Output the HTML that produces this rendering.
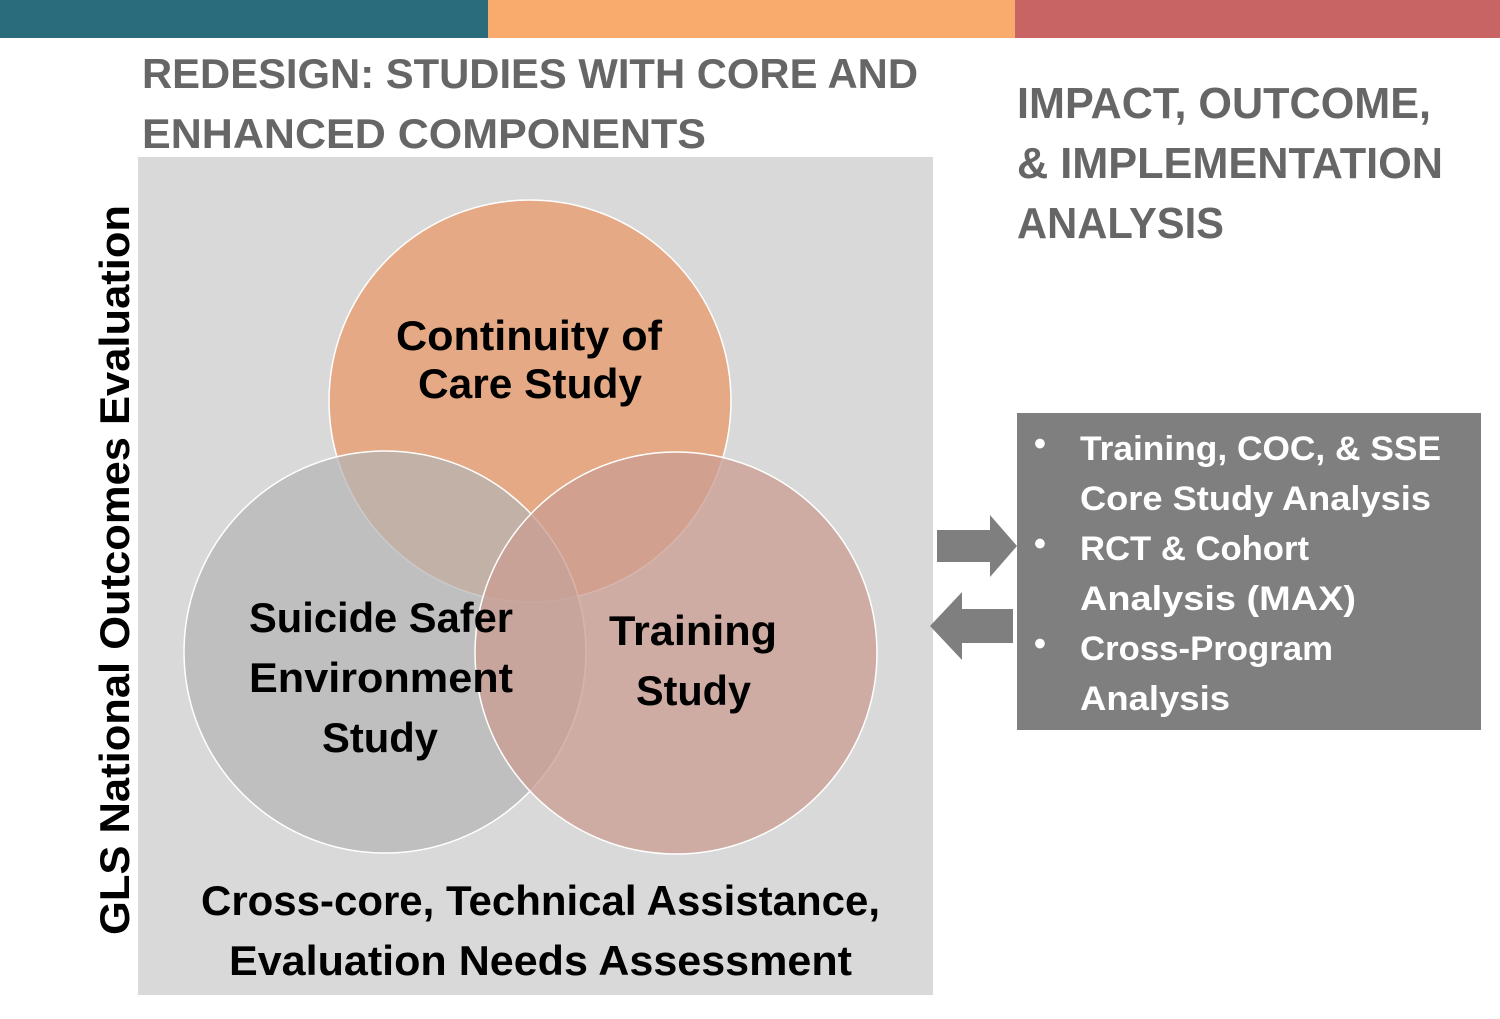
<!DOCTYPE html>
<html><head><meta charset="utf-8"><style>
html,body{margin:0;padding:0;background:#fff;}
svg{display:block;}
text{font-family:"Liberation Sans",sans-serif;font-weight:bold;}
</style></head><body>
<svg width="1500" height="1019" viewBox="0 0 1500 1019" xmlns="http://www.w3.org/2000/svg">
<rect x="0" y="0" width="488" height="38" fill="#2a6b7c"/>
<rect x="488" y="0" width="527" height="38" fill="#f9ab6d"/>
<rect x="1015" y="0" width="485" height="38" fill="#c96464"/>

<g fill="#666666" font-size="42">
<text x="142" y="88" textLength="776" lengthAdjust="spacingAndGlyphs">REDESIGN: STUDIES WITH CORE AND</text>
<text x="142" y="148" textLength="564" lengthAdjust="spacingAndGlyphs">ENHANCED COMPONENTS</text>
</g>
<g fill="#666666" font-size="44">
<text x="1017" y="118" textLength="414" lengthAdjust="spacingAndGlyphs">IMPACT, OUTCOME,</text>
<text x="1017" y="178" textLength="426" lengthAdjust="spacingAndGlyphs">&amp; IMPLEMENTATION</text>
<text x="1017" y="238" textLength="207" lengthAdjust="spacingAndGlyphs">ANALYSIS</text>
</g>

<rect x="138" y="157" width="795" height="838" fill="#d9d9d9"/>
<circle cx="530" cy="401" r="201" fill="#e79d6f" fill-opacity="0.8" stroke="#fff" stroke-width="1.5"/>
<circle cx="385" cy="652" r="201" fill="#b3b3b3" fill-opacity="0.7" stroke="#fff" stroke-width="1.5"/>
<circle cx="676" cy="653" r="201" fill="#c99c91" fill-opacity="0.75" stroke="#fff" stroke-width="1.5"/>

<g fill="#000" font-size="42">
<text x="396" y="350" textLength="266" lengthAdjust="spacingAndGlyphs">Continuity of</text>
<text x="418" y="398" textLength="224" lengthAdjust="spacingAndGlyphs">Care Study</text>
<text x="249" y="632" textLength="264" lengthAdjust="spacingAndGlyphs">Suicide Safer</text>
<text x="249" y="692" textLength="264" lengthAdjust="spacingAndGlyphs">Environment</text>
<text x="322" y="752" textLength="116" lengthAdjust="spacingAndGlyphs">Study</text>
<text x="609" y="645" textLength="168" lengthAdjust="spacingAndGlyphs">Training</text>
<text x="636" y="705" textLength="115" lengthAdjust="spacingAndGlyphs">Study</text>
<text x="201" y="915" textLength="679" lengthAdjust="spacingAndGlyphs">Cross-core, Technical Assistance,</text>
<text x="229" y="975" textLength="623" lengthAdjust="spacingAndGlyphs">Evaluation Needs Assessment</text>
</g>

<text transform="translate(129,935) rotate(-90)" fill="#000" font-size="42" textLength="730" lengthAdjust="spacingAndGlyphs">GLS National Outcomes Evaluation</text>

<polygon points="937,530 990,530 990,515 1017,546 990,577 990,562 937,562" fill="#7f7f7f"/>
<polygon points="1013,609 962,609 962,592 930,626 962,660 962,643 1013,643" fill="#7f7f7f"/>

<rect x="1017" y="413" width="464" height="317" fill="#7f7f7f"/>
<g fill="#fff" font-size="34">
<text x="1034" y="455">•</text>
<text x="1034" y="555">•</text>
<text x="1034" y="655">•</text>
<text x="1080" y="460" textLength="361" lengthAdjust="spacingAndGlyphs">Training, COC, &amp; SSE</text>
<text x="1080" y="510" textLength="351" lengthAdjust="spacingAndGlyphs">Core Study Analysis</text>
<text x="1080" y="560" textLength="229" lengthAdjust="spacingAndGlyphs">RCT &amp; Cohort</text>
<text x="1080" y="610" textLength="276" lengthAdjust="spacingAndGlyphs">Analysis (MAX)</text>
<text x="1080" y="660" textLength="253" lengthAdjust="spacingAndGlyphs">Cross-Program</text>
<text x="1080" y="710" textLength="150" lengthAdjust="spacingAndGlyphs">Analysis</text>
</g>
</svg>
</body></html>
